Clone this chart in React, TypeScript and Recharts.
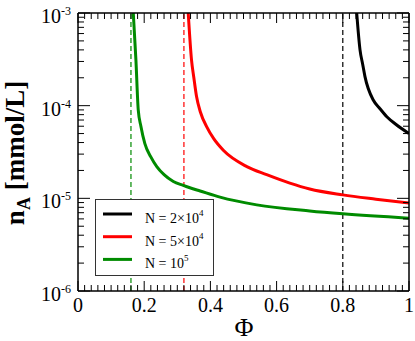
import React from "react";
import { LineChart, Line, XAxis, YAxis, ReferenceLine } from "recharts";

// ---- data ----
const greenX = [0.167, 0.175, 0.182, 0.19, 0.202, 0.22, 0.238, 0.26, 0.288, 0.318, 0.338, 0.369, 0.429, 0.54, 0.7, 0.8, 1.0];
const greenY = [1e-3, 3.1e-4, 9.0e-5, 6.0e-5, 3.9e-5, 2.8e-5, 2.2e-5, 1.8e-5, 1.52e-5, 1.38e-5, 1.3e-5, 1.2e-5, 1.03e-5, 8.5e-6, 7.3e-6, 6.8e-6, 6.1e-6];

const redX = [0.333, 0.343, 0.35, 0.358, 0.37, 0.389, 0.41, 0.439, 0.51, 0.57, 0.64, 0.7, 0.8, 0.9, 1.0];
const redY = [1e-3, 3.1e-4, 2.0e-4, 1.26e-4, 8.5e-5, 5.9e-5, 4.4e-5, 3.3e-5, 2.2e-5, 1.8e-5, 1.46e-5, 1.26e-5, 1.09e-5, 9.8e-6, 8.9e-6];

const blackX = [0.842, 0.852, 0.86, 0.867, 0.892, 0.91, 0.933, 0.96, 1.0];
const blackY = [1e-3, 4.0e-4, 2.8e-4, 2.06e-4, 1.15e-4, 9.5e-5, 7.6e-5, 6.3e-5, 5.0e-5];

const asymptotes = [0.8, 0.32, 0.16];

const xMajorTicks = [0, 0.2, 0.4, 0.6, 0.8, 1];
const xTickLabels = ["0", "0.2", "0.4", "0.6", "0.8", "1"];
const xAllTicks = Array.from({ length: 51 }, (_, i) => +(i * 0.02).toFixed(2));
const yMajorTicks = [1e-6, 1e-5, 1e-4, 1e-3];
const yExponents = ["-6", "-5", "-4", "-3"];
const yAllTicks: number[] = [1e-3];
[1e-6, 1e-5, 1e-4].forEach((d) => {
  for (let k = 1; k <= 9; k++) yAllTicks.push(+(k * d).toPrecision(3));
});

const seriesNames = ["N = 2×10", "N = 5×10", "N = 10"];
const seriesSup = ["4", "4", "5"];
const colors = ["#000000", "#ff0000", "#008b00"];

const toPts = (xs: number[], ys: number[]) => xs.map((x, i) => ({ x, y: ys[i] }));
const series = [toPts(blackX, blackY), toPts(redX, redY), toPts(greenX, greenY)];

const FONT = "'Liberation Serif', 'Times New Roman', serif";
const MAJOR = 10;
const MINOR = 6;

const xMajorIdx = (v: number) => xMajorTicks.findIndex((m) => Math.abs(m - v) < 1e-9);
const yMajorIdx = (v: number) => yMajorTicks.findIndex((m) => Math.abs(m - v) / m < 1e-6);

const BottomTick = (props: any) => {
  const { x, y, payload } = props;
  const idx = xMajorIdx(payload.value);
  const len = idx >= 0 ? MAJOR : MINOR;
  return (
    <g>
      <line x1={x} x2={x} y1={y} y2={y - len} stroke="#000" strokeWidth={1} />
      {idx >= 0 && (
        <text x={x} y={y + 21} textAnchor="middle" fontFamily={FONT} fontSize={20} fill="#000">
          {xTickLabels[idx]}
        </text>
      )}
    </g>
  );
};

const TopTick = (props: any) => {
  const { x, y, payload } = props;
  const idx = xMajorIdx(payload.value);
  const len = idx >= 0 ? MAJOR : MINOR;
  return <line x1={x} x2={x} y1={y} y2={y + len} stroke="#000" strokeWidth={1} />;
};

const LeftTick = (props: any) => {
  const { x, y, payload } = props;
  const idx = yMajorIdx(payload.value);
  const len = idx >= 0 ? 12 : MINOR;
  return (
    <g>
      <line x1={x} x2={x + len} y1={y} y2={y} stroke="#000" strokeWidth={1} />
      {idx >= 0 && (
        <text x={x - 7} y={y + 10} textAnchor="end" fontFamily={FONT} fontSize={20} fill="#000">
          10
          <tspan dy={-8} fontSize={12}>
            {yExponents[idx]}
          </tspan>
        </text>
      )}
    </g>
  );
};

const RightTick = (props: any) => {
  const { x, y, payload } = props;
  const idx = yMajorIdx(payload.value);
  const len = idx >= 0 ? 12 : MINOR;
  return <line x1={x} x2={x - len} y1={y} y2={y} stroke="#000" strokeWidth={1} />;
};

export default function App() {
  const W = 415;
  const H = 341;
  const axisStroke = { stroke: "#000", strokeWidth: 1.5 };
  return (
    <div style={{ position: "absolute", left: 0, top: 0, width: W, height: H, background: "#fff" }}>
      <LineChart width={W} height={H} margin={{ top: 0, left: 0, right: 0, bottom: 0 }}>
        <XAxis
          xAxisId="main"
          type="number"
          dataKey="x"
          domain={[0, 1]}
          allowDataOverflow
          ticks={xAllTicks}
          interval={0}
          height={50}
          tickSize={0}
          tickMargin={0}
          tick={<BottomTick />}
          tickLine={false}
          axisLine={axisStroke}
        />
        <XAxis
          xAxisId="top"
          orientation="top"
          type="number"
          dataKey="x"
          domain={[0, 1]}
          allowDataOverflow
          ticks={xAllTicks}
          interval={0}
          height={13}
          tickSize={0}
          tickMargin={0}
          tick={<TopTick />}
          tickLine={false}
          axisLine={axisStroke}
        />
        <YAxis
          yAxisId="main"
          type="number"
          scale="log"
          domain={[1e-6, 1e-3]}
          allowDataOverflow
          ticks={yAllTicks}
          interval={0}
          width={78}
          tickSize={0}
          tickMargin={0}
          tick={<LeftTick />}
          tickLine={false}
          axisLine={axisStroke}
        />
        <YAxis
          yAxisId="right"
          orientation="right"
          type="number"
          scale="log"
          domain={[1e-6, 1e-3]}
          allowDataOverflow
          ticks={yAllTicks}
          interval={0}
          width={6}
          tickSize={0}
          tickMargin={0}
          tick={<RightTick />}
          tickLine={false}
          axisLine={axisStroke}
        />
        {asymptotes.map((a, i) => (
          <ReferenceLine
            key={"ref" + i}
            xAxisId="main"
            yAxisId="main"
            x={a}
            stroke={colors[i]}
            strokeWidth={1.2}
            strokeDasharray="5 3"
          />
        ))}
        {series.map((d, i) => (
          <Line
            key={"s" + i}
            xAxisId="main"
            yAxisId="main"
            data={d}
            dataKey="y"
            type="monotone"
            stroke={colors[i]}
            strokeWidth={3}
            dot={false}
            activeDot={false}
            isAnimationActive={false}
          />
        ))}
      </LineChart>
      <svg
        width={W}
        height={H}
        style={{ position: "absolute", left: 0, top: 0, pointerEvents: "none" }}
      >
        <text x={244} y={336} textAnchor="middle" fontFamily={FONT} fontSize={26} fill="#000">
          Φ
        </text>
        <text
          transform="translate(24,153) rotate(-90)"
          textAnchor="middle"
          fontFamily={FONT}
          fontSize={27}
          fontWeight="bold"
          fill="#000"
        >
          n
          <tspan fontSize={18} dy={6}>A</tspan>
          <tspan dy={-6}> [mmol/L]</tspan>
        </text>
        <rect x={95.5} y={199.5} width={118} height={76} fill="#fff" stroke="#333" strokeWidth={1} />
        {seriesNames.map((n, i) => (
          <g key={"lg" + i}>
            <line x1={103} x2={132} y1={214 + i * 22.7} y2={214 + i * 22.7} stroke={colors[i]} strokeWidth={3} />
            <text x={145} y={223 + i * 22.6} fontFamily={FONT} fontSize={14} fill="#000">
              {n}
              <tspan dy={-7} fontSize={9}>
                {seriesSup[i]}
              </tspan>
            </text>
          </g>
        ))}
      </svg>
    </div>
  );
}
